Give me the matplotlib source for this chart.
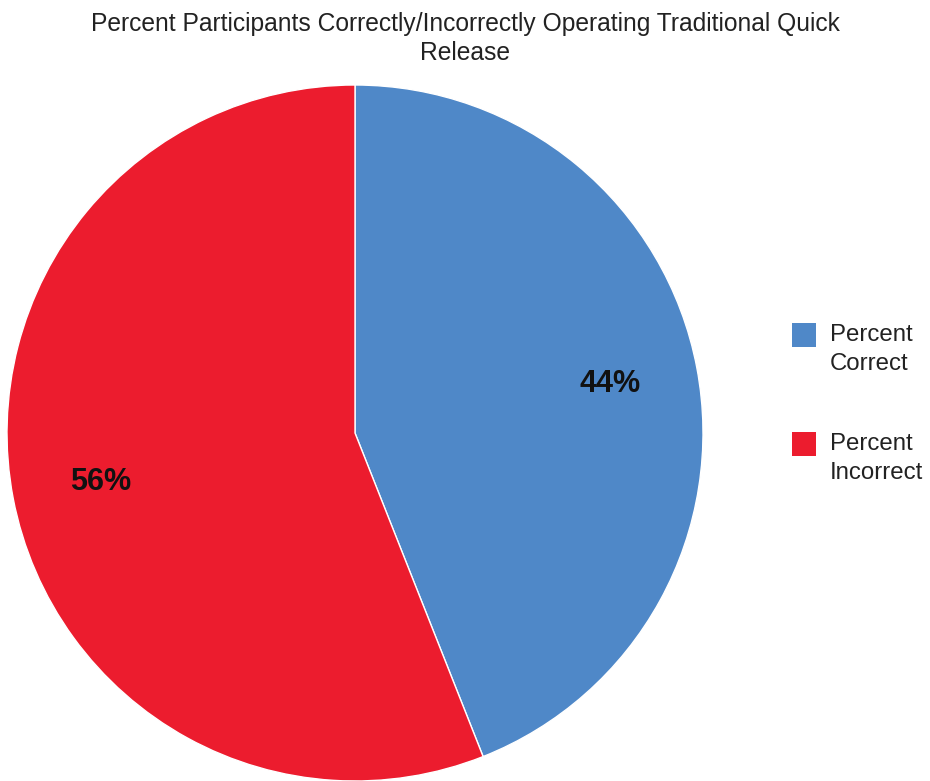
import matplotlib
matplotlib.use("Agg")

import matplotlib.pyplot as plt
from matplotlib.patches import Rectangle

labels = ['Percent\nCorrect', 'Percent\nIncorrect']
values = [44, 56]
colors = ['#4F88C8', '#EC1C2E']
title = 'Percent Participants Correctly/Incorrectly Operating Traditional Quick\nRelease'

plt.rcParams['font.family'] = ['Liberation Sans', 'DejaVu Sans']

fig = plt.figure(figsize=(9.3, 7.81), dpi=100)
# pie centre at about (355, 433) px, radius about 348 px
ax = fig.add_axes([7 / 930, (781 - 433 - 348) / 781, 696 / 930, 696 / 781])

wedges, texts, autotexts = ax.pie(
    values, colors=colors, startangle=90, counterclock=False,
    autopct='%d%%', pctdistance=0.745, radius=1.0,
    wedgeprops={'edgecolor': 'white', 'linewidth': 1.0},
    textprops={'fontsize': 22, 'fontweight': 'bold', 'color': '#111111'})
ax.set_xlim(-1.0, 1.0)
ax.set_ylim(-1.0, 1.0)
ax.set_aspect('equal')

fig.text(0.5, 1 - 12 / 781, title, ha='center', va='top', fontsize=17.7,
         color='#222222', linespacing=1.25)

# legend drawn by hand so the square lines up with the first text line
legend_tops = [323, 432]
for lab, col, top in zip(labels, colors, legend_tops):
    fig.add_artist(Rectangle((792 / 930, 1 - (top + 24) / 781), 24 / 930, 24 / 781,
                             transform=fig.transFigure, facecolor=col,
                             edgecolor='none'))
    fig.text(830 / 930, 1 - (top + 1) / 781, lab, ha='left', va='top',
             fontsize=17.3, color='#222222', linespacing=1.4)

fig.savefig('out.png', dpi=100)
